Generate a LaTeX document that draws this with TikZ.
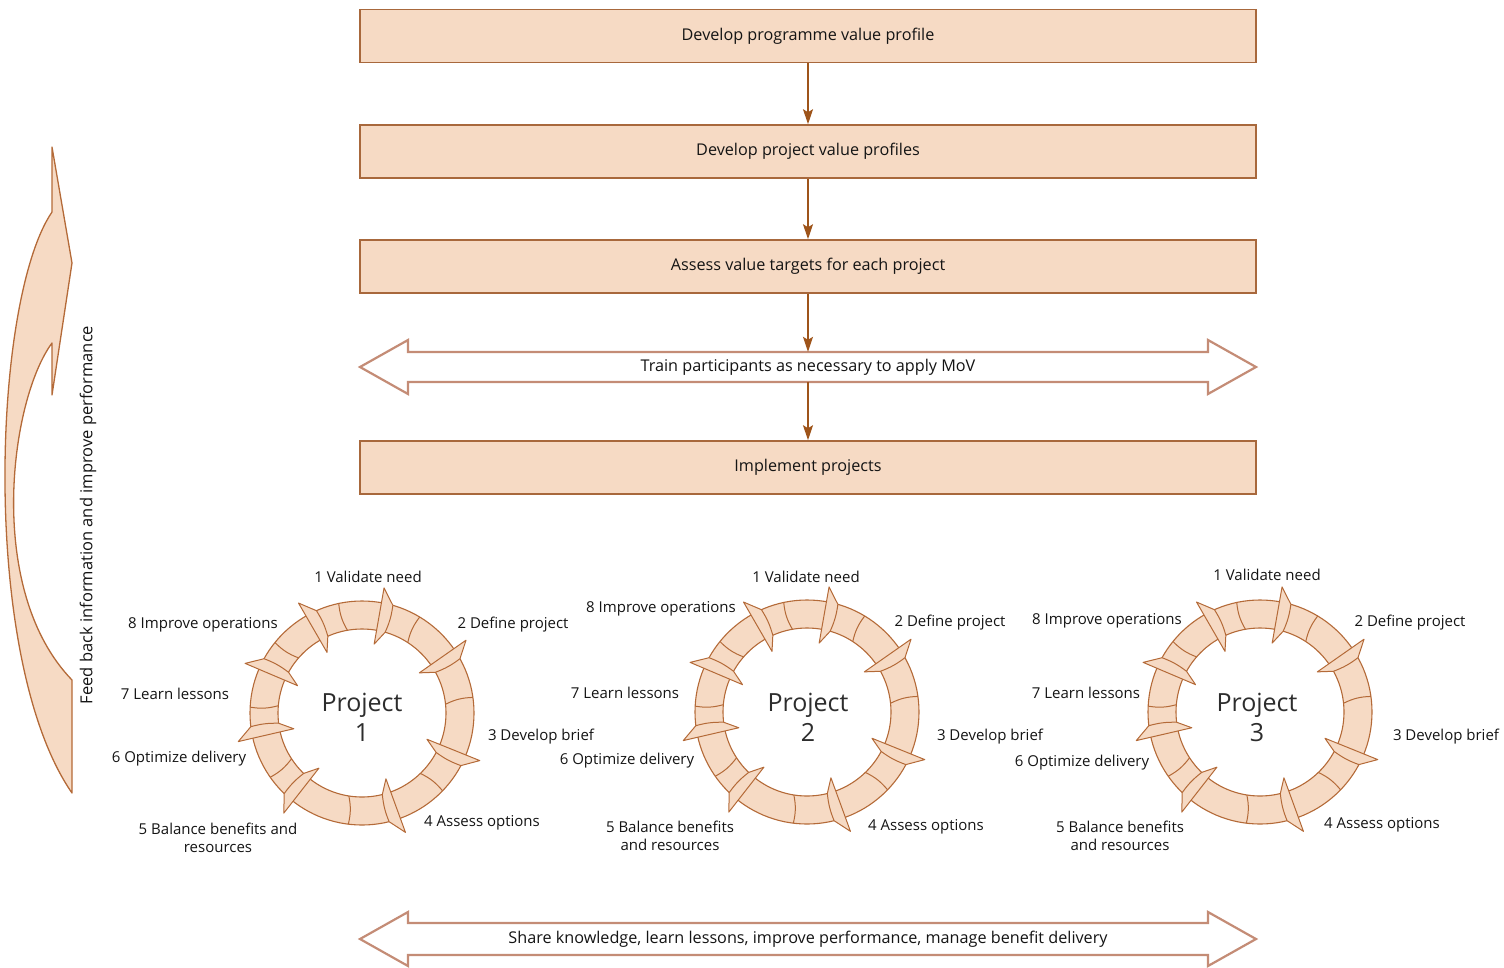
\documentclass[tikz,border=0pt]{standalone}
\usepackage{fontspec}
\setmainfont{Open Sans}
\usetikzlibrary{arrows.meta}

\definecolor{peach}{RGB}{246,218,196}
\definecolor{rim}{RGB}{180,106,56}
\definecolor{boxrim}{RGB}{168,104,60}
\definecolor{link}{RGB}{158,84,26}
\definecolor{band}{RGB}{196,140,118}
\definecolor{ink}{RGB}{20,20,20}
\definecolor{bigink}{RGB}{45,45,45}

% one segmented cycle of eight arrows, centred at #1
\newcommand\cyclering[1]{%
  \begin{scope}[shift={#1}]
    \fill[peach,even odd rule] (0,0) circle (112pt) (0,0) circle (84pt);
    \draw[rim,line width=1.1pt] (0,0) circle (112pt) (0,0) circle (84pt);
    \foreach \d in {57,6,-46,-99,-147,-185,-221,-260}
      \draw[rim,line width=1pt] (\d:84pt) to[bend left=12] (\d+2:112pt);
    \foreach \a in {80,35,-22,-70,-128,-167,-203,-240}
      \draw[rim,fill=peach,line width=1pt,line join=round]
        (\a:70pt) -- (\a:127pt) -- (\a-6:112pt) to[bend left=8] (\a-6:84pt) -- cycle;
  \end{scope}}

\begin{document}
\begin{tikzpicture}[x=1pt,y=-1pt,
  stepbox/.style={draw=boxrim,line width=1.6pt,fill=peach,minimum width=896pt,
    minimum height=53pt,inner sep=0pt,text=ink,font=\fontsize{16.2}{18}\selectfont},
  bandtext/.style={minimum width=790pt,minimum height=30pt,inner sep=0pt,text=ink,
    font=\fontsize{16.2}{18}\selectfont},
  band/.style={draw=band,line width=2.2pt,fill=white,line join=miter},
  link/.style={draw=link,line width=1.3pt,-{Stealth[length=15pt,width=10pt,inset=3pt]}},
  lbl/.style={inner sep=0pt,text=ink,font=\fontsize{15}{18}\selectfont,align=center},
  proj/.style={inner sep=0pt,text=bigink,font=\fontsize{25}{30}\selectfont,align=center}]
\useasboundingbox (0,0) rectangle (1504,967);

% feedback arrow on the left
\draw[rim,fill=peach,line width=1.3pt,line join=round]
  (52,147) -- (72,263) -- (52,395) -- (52,343)
  .. controls (10,400) and (-15,590) .. (72,680) -- (72,793)
  .. controls (-20,660) and (-8,300) .. (52,212) -- cycle;
\node[lbl,rotate=90,font=\fontsize{16.5}{18}\selectfont] (feedback) at (88,515)
  {Feed back information and improve performance};

% main sequence
\node[stepbox] (b1) at (808,36) {Develop programme value profile};
\node[stepbox] (b2) at (808,151.5) {Develop project value profiles};
\node[stepbox] (b3) at (808,266.5) {Assess value targets for each project};

\draw[band] (360,367) -- (408,340) -- (408,352) -- (1208,352) -- (1208,340) -- (1256,367)
  -- (1208,394) -- (1208,382) -- (408,382) -- (408,394) -- cycle;
\node[bandtext] (train) at (808,367) {Train participants as necessary to apply MoV};

\node[stepbox] (b5) at (808,467.5) {Implement projects};

\draw[link] (b1) -- (b2);
\draw[link] (b2) -- (b3);
\draw[link] (b3.south) -- (train.north);
\draw[link] (train.south) -- (b5.north);

% project cycles
\cyclering{(362,713)}
\cyclering{(807,712)}
\cyclering{(1260,712)}

\node[proj] (p1) at (362,717) {Project\\1};
\node[proj] (p2) at (808,717) {Project\\2};
\node[proj] (p3) at (1257,717) {Project\\3};

% project 1 stages
\node[lbl] (p1s1) at (368,577) {1 Validate need};
\node[lbl] (p1s2) at (513,625) {2 Define project};
\node[lbl] (p1s3) at (541,737) {3 Develop brief};
\node[lbl] (p1s4) at (482,823) {4 Assess options};
\node[lbl] (p1s5) at (218,838) {5 Balance benefits and\\resources};
\node[lbl] (p1s6) at (179,759) {6 Optimize delivery};
\node[lbl] (p1s7) at (175,694) {7 Learn lessons};
\node[lbl] (p1s8) at (203,625) {8 Improve operations};

% project 2 stages
\node[lbl] (p2s1) at (806,577) {1 Validate need};
\node[lbl] (p2s2) at (950,623) {2 Define project};
\node[lbl] (p2s3) at (990,737) {3 Develop brief};
\node[lbl] (p2s4) at (926,827) {4 Assess options};
\node[lbl] (p2s5) at (670,836) {5 Balance benefits\\and resources};
\node[lbl] (p2s6) at (627,761) {6 Optimize delivery};
\node[lbl] (p2s7) at (625,693) {7 Learn lessons};
\node[lbl] (p2s8) at (661,609) {8 Improve operations};

% project 3 stages
\node[lbl] (p3s1) at (1267,575) {1 Validate need};
\node[lbl] (p3s2) at (1410,623) {2 Define project};
\node[lbl] (p3s3) at (1446,737) {3 Develop brief};
\node[lbl] (p3s4) at (1382,825) {4 Assess options};
\node[lbl] (p3s5) at (1120,836) {5 Balance benefits\\and resources};
\node[lbl] (p3s6) at (1082,763) {6 Optimize delivery};
\node[lbl] (p3s7) at (1086,693) {7 Learn lessons};
\node[lbl] (p3s8) at (1107,621) {8 Improve operations};

% shared learning band
\draw[band] (360,939) -- (408,912) -- (408,923) -- (1208,923) -- (1208,912) -- (1256,939)
  -- (1208,966) -- (1208,955) -- (408,955) -- (408,966) -- cycle;
\node[bandtext] (share) at (808,939) {Share knowledge, learn lessons, improve performance, manage benefit delivery};
\end{tikzpicture}
\end{document}
